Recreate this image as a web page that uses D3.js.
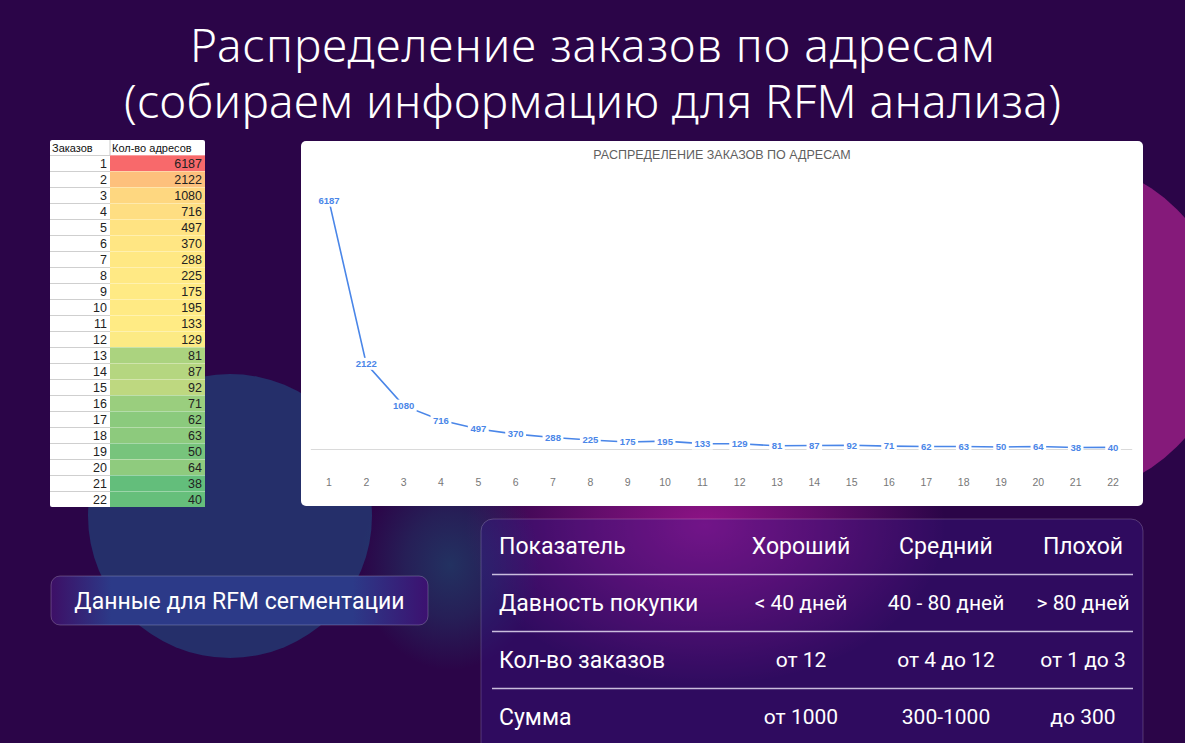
<!DOCTYPE html>
<html>
<head>
<meta charset="utf-8">
<script src="https://cdn.jsdelivr.net/npm/d3@7"></script>
<style>
  html, body { margin: 0; padding: 0; background: #2b0548; overflow: hidden; }
  svg { display: block; }
</style>
</head>
<body>
<div id="slide"></div>
<script>
// data
const orders = [1, 2, 3, 4, 5, 6, 7, 8, 9, 10, 11, 12, 13, 14, 15, 16, 17, 18, 19, 20, 21, 22]
const addresses = [6187, 2122, 1080, 716, 497, 370, 288, 225, 175, 195, 133, 129, 81, 87, 92, 71, 62, 63, 50, 64, 38, 40]
const titleLines = ['Распределение заказов по адресам', '(собираем информацию для RFM анализа)']
const chartTitle = 'РАСПРЕДЕЛЕНИЕ ЗАКАЗОВ ПО АДРЕСАМ'
const tableHeader = ['Заказов', 'Кол-во адресов']
const rfmColumns = ['Показатель', 'Хороший', 'Средний', 'Плохой']
const rfmRows = [
  ['Давность покупки', '< 40 дней', '40 - 80 дней', '> 80 дней'],
  ['Кол-во заказов', 'от 12', 'от 4 до 12', 'от 1 до 3'],
  ['Сумма', 'от 1000', '300-1000', 'до 300']
]
const buttonLabel = 'Данные для RFM сегментации'

const W = 1185, H = 743
const data = orders.map((o, i) => ({ order: o, value: addresses[i] }))

const svg = d3.select('#slide').append('svg').attr('width', W).attr('height', H)
const defs = svg.append('defs')

function radial (id, color, stops) {
  let g = defs.append('radialGradient').attr('id', id)
  stops.forEach(s => g.append('stop').attr('offset', s[0]).attr('stop-color', color).attr('stop-opacity', s[1]))
}
radial('glowPink', '#931489', [[0, 0.95], [0.45, 0.55], [1, 0]])
radial('glowTeal', '#1d4f72', [[0, 0.6], [0.5, 0.35], [1, 0]])

let btnGrad = defs.append('linearGradient').attr('id', 'btnGrad')
btnGrad.append('stop').attr('offset', 0).attr('stop-color', '#3d0f66')
btnGrad.append('stop').attr('offset', 0.16).attr('stop-color', '#2c3a88')
btnGrad.append('stop').attr('offset', 0.8).attr('stop-color', '#2c3a88')
btnGrad.append('stop').attr('offset', 1).attr('stop-color', '#3c1170')

// background
svg.append('rect').attr('width', W).attr('height', H).attr('fill', '#2b0548')
svg.append('circle').attr('cx', 1058).attr('cy', 328).attr('r', 168).attr('fill', '#851a7a')
svg.append('circle').attr('cx', 230).attr('cy', 516).attr('r', 142).attr('fill', '#252f6a')
svg.append('ellipse').attr('cx', 705).attr('cy', 525).attr('rx', 240).attr('ry', 160).attr('fill', 'url(#glowPink)')
svg.append('ellipse').attr('cx', 450).attr('cy', 565).attr('rx', 90).attr('ry', 105).attr('fill', 'url(#glowTeal)')

// title
let titleWidths = [805, 937]
svg.selectAll('text.title').data(titleLines).enter().append('text').classed('title', true)
  .text(d => d)
  .attr('x', W / 2).attr('y', (d, i) => 62 + i * 56)
  .attr('text-anchor', 'middle')
  .attr('textLength', (d, i) => titleWidths[i])
  .attr('fill', '#fff')
  .style('font-family', '"Noto Sans", sans-serif')
  .style('font-size', '46px')
  .style('font-weight', 300)

// spreadsheet table
let tx = [50, 110, 205]
let ty = d3.scaleBand().domain(orders).range([155, 507])
let heat = d3.scaleLinear()
  .domain([d3.min(addresses), d3.median(addresses), d3.max(addresses)])
  .range(['#63be7b', '#ffeb84', '#f8696b'])
let tbl = svg.append('g').style('font-family', '"Liberation Sans", Arial, sans-serif')
tbl.append('rect').attr('x', tx[0]).attr('y', 140).attr('width', tx[2] - tx[0]).attr('height', 367)
  .attr('rx', 2).attr('fill', '#fff')
tbl.selectAll('text.hdr').data(tableHeader).enter().append('text').classed('hdr', true)
  .text(d => d).attr('x', (d, i) => tx[i] + 2).attr('y', 151.5)
  .style('font-size', '11px').attr('fill', '#111')
tbl.append('line').attr('x1', tx[1]).attr('x2', tx[1]).attr('y1', 140).attr('y2', 155).attr('stroke', '#c8c8c8')
let rows = tbl.selectAll('g.row').data(data).enter().append('g').classed('row', true)
  .attr('transform', d => `translate(0, ${ty(d.order)})`)
rows.append('rect').attr('x', tx[1]).attr('width', tx[2] - tx[1]).attr('height', ty.bandwidth())
  .attr('fill', d => heat(d.value))
rows.append('line').attr('x1', tx[0]).attr('x2', tx[1]).attr('y1', 0.5).attr('y2', 0.5).attr('stroke', '#cfcfcf')
rows.append('line').attr('x1', tx[1]).attr('x2', tx[2]).attr('y1', 0.5).attr('y2', 0.5)
  .attr('stroke', '#fff').attr('stroke-opacity', 0.35)
rows.append('text').text(d => d.order).attr('x', tx[1] - 3).attr('y', 13)
  .attr('text-anchor', 'end').style('font-size', '12.5px').attr('fill', '#222')
rows.append('text').text(d => d.value).attr('x', tx[2] - 3).attr('y', 13)
  .attr('text-anchor', 'end').style('font-size', '12.5px').attr('fill', '#222')

// line chart card
let card = svg.append('g').style('font-family', '"Liberation Sans", Arial, sans-serif')
card.append('rect').attr('x', 301).attr('y', 141).attr('width', 842).attr('height', 365)
  .attr('rx', 5).attr('fill', '#fff')
card.append('text').text(chartTitle).attr('x', 722).attr('y', 159)
  .attr('text-anchor', 'middle').attr('fill', '#5f5f5f').style('font-size', '12.5px')

let x = d3.scaleBand().domain(orders).range([310.3, 1131.7])
let cx = d => x(d) + x.bandwidth() / 2
let y = d3.scaleLinear().domain([0, 7000]).range([449, 168])

let axis = card.append('g').attr('transform', `translate(0, ${y(0)})`)
  .call(d3.axisBottom(x).tickSize(0).tickSizeOuter(0).tickPadding(30))
axis.select('.domain').attr('stroke', '#dadada')
axis.selectAll('text').attr('fill', '#777').style('font-size', '10.5px')
  .style('font-family', '"Liberation Sans", Arial, sans-serif')

card.append('path').datum(data)
  .attr('d', d3.line().x(d => cx(d.order)).y(d => y(d.value)))
  .attr('fill', 'none').attr('stroke', '#4a86e8').attr('stroke-width', 1.6)

let labels = card.selectAll('g.lbl').data(data).enter().append('g').classed('lbl', true)
  .attr('transform', d => `translate(${cx(d.order)}, ${y(d.value)})`)
labels.append('rect').attr('fill', '#fff')
let lt = labels.append('text').text(d => d.value).attr('text-anchor', 'middle').attr('dy', '0.35em')
  .attr('fill', '#4a86e8').style('font-size', '9.5px').style('font-weight', 'bold')
lt.each(function (d) {
  let w = this.getComputedTextLength() + 5
  d3.select(this.parentNode).select('rect')
    .attr('x', -w / 2).attr('y', -6).attr('width', w).attr('height', 12)
})

// button
let btn = svg.append('g')
btn.append('rect').attr('x', 51).attr('y', 576).attr('width', 377).attr('height', 49).attr('rx', 9)
  .attr('fill', 'url(#btnGrad)').attr('stroke', '#fff').attr('stroke-opacity', 0.22)
btn.append('text').text(buttonLabel).attr('x', 239.5).attr('y', 609)
  .attr('text-anchor', 'middle').attr('fill', '#fff')
  .style('font-family', 'Roboto, sans-serif').style('font-size', '23px')

// RFM table
let rfm = svg.append('g').style('font-family', 'Roboto, sans-serif')
rfm.append('rect').attr('x', 481).attr('y', 519).attr('width', 662).attr('height', 240).attr('rx', 12)
  .attr('fill', '#3a1890').attr('fill-opacity', 0.33)
  .attr('stroke', '#fff').attr('stroke-opacity', 0.2)
let colX = [499, 801, 946, 1083]
let rowY = [546, 603, 660, 717]
rfm.selectAll('text.col').data(rfmColumns).enter().append('text').classed('col', true)
  .text(d => d)
  .attr('x', (d, i) => colX[i]).attr('y', rowY[0]).attr('dy', '0.35em')
  .attr('text-anchor', (d, i) => i ? 'middle' : 'start')
  .attr('fill', '#fff').style('font-size', '23px')
rfm.selectAll('line.sep').data(rfmRows).enter().append('line').classed('sep', true)
  .attr('x1', 492).attr('x2', 1133)
  .attr('y1', (d, i) => (rowY[i] + rowY[i + 1]) / 2).attr('y2', (d, i) => (rowY[i] + rowY[i + 1]) / 2)
  .attr('stroke', '#e4dcf2').attr('stroke-width', 1.5).attr('stroke-opacity', 0.85)
let rg = rfm.selectAll('g.rrow').data(rfmRows).enter().append('g').classed('rrow', true)
  .attr('transform', (d, i) => `translate(0, ${rowY[i + 1]})`)
rg.selectAll('text').data(d => d).enter().append('text')
  .text(d => d)
  .attr('x', (d, i) => colX[i]).attr('dy', '0.35em')
  .attr('text-anchor', (d, i) => i ? 'middle' : 'start')
  .attr('fill', '#fff').style('font-size', (d, i) => i ? '21px' : '23px')
</script>
</body>
</html>
